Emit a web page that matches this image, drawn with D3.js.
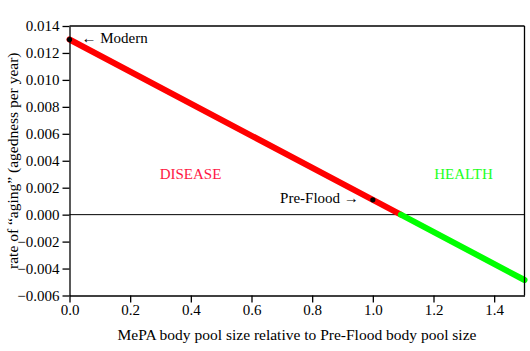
<!DOCTYPE html>
<html>
<head>
<meta charset="utf-8">
<script src="https://cdn.jsdelivr.net/npm/d3@7"></script>
<style>
body{margin:0;background:#fff;}
text{font-family:"Liberation Serif","DejaVu Serif",serif;}
</style>
</head>
<body>
<div id="chart"></div>
<script>
// pool size (relative) where the line crosses zero
const diseaseX = [0, 1.0924];
const diseaseY = [0.013, 0];
const healthX = [1.0924, 1.5];
const healthY = [0, -0.00485];

const points = [
    {name:'Modern', x:0, y:0.013},
    {name:'Pre-Flood', x:1.0, y:0.0011}
];

const xTicks = [0.0, 0.2, 0.4, 0.6, 0.8, 1.0, 1.2, 1.4];
const yTicks = [-0.006, -0.004, -0.002, 0.000, 0.002, 0.004, 0.006, 0.008, 0.010, 0.012, 0.014];

const margin = {top:26, right:5.5, bottom:55.5, left:69.5};
const W = 530, H = 351;
const width = W - margin.left - margin.right;
const height = H - margin.top - margin.bottom;
const fs = '15px';

const svg = d3.select('#chart')
.append('svg')
.attr('width',W)
.attr('height',H);

const g = svg.append('g')
.attr('transform',`translate(${margin.left},${margin.top})`);

const x = d3.scaleLinear().domain([0,1.5]).range([0,width]);
const y = d3.scaleLinear().domain([-0.006,0.014]).range([height,0]);

// zero line
g.append('line')
.attr('x1',0).attr('x2',width)
.attr('y1',y(0)).attr('y2',y(0))
.attr('stroke','#000').attr('stroke-width',1);

const line = d3.line()
.x(d => x(d[0]))
.y(d => y(d[1]));

g.append('path')
.datum(d3.zip(diseaseX, diseaseY))
.attr('d',line)
.attr('fill','none')
.attr('stroke','#ff0000')
.attr('stroke-width',6)
.attr('stroke-linecap','round');

g.append('path')
.datum(d3.zip(healthX, healthY))
.attr('d',line)
.attr('fill','none')
.attr('stroke','#00ff00')
.attr('stroke-width',6)
.attr('stroke-linecap','round');

g.selectAll('circle.pt')
.data(points)
.enter()
.append('circle')
.attr('cx',d => x(d.x))
.attr('cy',d => y(d.y))
.attr('r',2.6)
.attr('fill','#000');

// axes
const xAxis = g.append('g')
.attr('transform',`translate(0,${height})`)
.call(d3.axisBottom(x).tickValues(xTicks).tickFormat(d3.format('.1f')).tickSize(7).tickSizeOuter(0));

const yAxis = g.append('g')
.call(d3.axisLeft(y).tickValues(yTicks).tickFormat(d => d3.format('.3f')(d).replace('-','\u2212')).tickSize(7).tickSizeOuter(0));

[xAxis,yAxis].forEach(a => {
    a.selectAll('path').attr('stroke','#000').attr('stroke-width',1.3);
    a.selectAll('line').attr('stroke','#000').attr('stroke-width',1.3);
    a.selectAll('text')
    .attr('fill','#000')
    .style('font-size',fs)
    .style('font-family','"Liberation Serif",serif');
});
xAxis.selectAll('text').attr('dy','0.63em');
yAxis.selectAll('text').attr('x',-10);

// top/right frame
g.append('line').attr('x1',0).attr('x2',width).attr('y1',0).attr('y2',0)
.attr('stroke','#000').attr('stroke-width',1.3);
g.append('line').attr('x1',width).attr('x2',width).attr('y1',0).attr('y2',height)
.attr('stroke','#000').attr('stroke-width',1.3);

// labels
g.append('text')
.attr('x',x(0)+12).attr('y',y(0.013)+4)
.style('font-size',fs)
.text('\u2190 Modern');

g.append('text')
.attr('x',x(1.0)-14).attr('y',y(0.0011)+3)
.attr('text-anchor','end')
.style('font-size',fs)
.text('Pre-Flood \u2192');

g.append('text')
.attr('x',x(0.399)).attr('y',y(0.003)+5)
.attr('text-anchor','middle')
.attr('fill','#ff1744')
.style('font-size',fs)
.text('DISEASE');

g.append('text')
.attr('x',x(1.299)).attr('y',y(0.003)+5)
.attr('text-anchor','middle')
.attr('fill','#22ff22')
.style('font-size',fs)
.text('HEALTH');

svg.append('text')
.attr('x',297).attr('y',340)
.attr('text-anchor','middle')
.style('font-size','15.5px')
.text('MePA body pool size relative to Pre-Flood body pool size');

svg.append('text')
.attr('transform',`translate(18,${margin.top + height/2}) rotate(-90)`)
.attr('text-anchor','middle')
.style('font-size','15.5px')
.text('rate of \u201caging\u201d (agedness per year)');
</script>
</body>
</html>
